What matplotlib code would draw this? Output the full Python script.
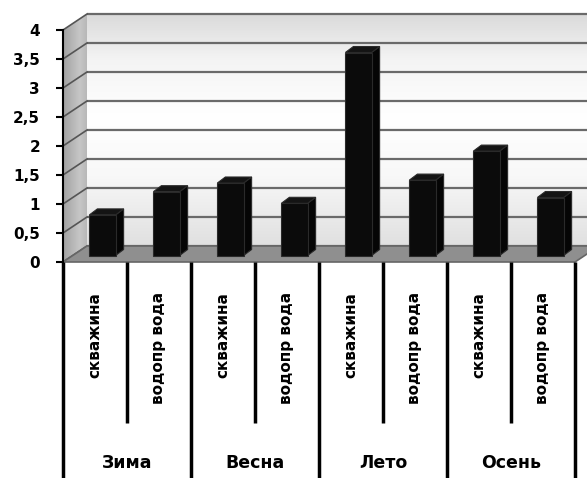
import matplotlib
matplotlib.use("Agg")
import matplotlib.pyplot as plt
import numpy as np
from matplotlib.patches import Polygon
from matplotlib.colors import LinearSegmentedColormap

# ---- data ----
seasons = ["Зима", "Весна", "Лето", "Осень"]
sources = ["скважина", "водопр вода"]
values = [0.7, 1.1, 1.25, 0.9, 3.5, 1.3, 1.8, 1.0]
yticks = [0, 0.5, 1, 1.5, 2, 2.5, 3, 3.5, 4]
ytick_labels = ["0", "0,5", "1", "1,5", "2", "2,5", "3", "3,5", "4"]

plt.rcParams["font.family"] = ["DejaVu Sans"]

W, H = 587, 478
fig = plt.figure(figsize=(W / 100, H / 100), dpi=100)
fig.patch.set_facecolor("white")

# front plane of the pseudo-3D box (pixels)
left_px, right_px, base_px, top_px = 63, 575, 262, 30
ax = fig.add_axes([left_px / W, 1 - base_px / H,
                   (right_px - left_px) / W, (base_px - top_px) / H])
n = len(values)
ax.set_xlim(0, n)
ax.set_ylim(0, 4)
ax.set_facecolor("none")

ux = n / (right_px - left_px)   # data units per pixel
uy = 4 / (base_px - top_px)

# depth offsets (data units)
wdx, wdy = 24 * ux, 16 * uy      # back wall
fdx, fdy = 7.5 * ux, 6.5 * uy    # front face of the columns
bdx, bdy = 15.5 * ux, 12.5 * uy  # back face of the columns

x_far = (W - left_px) * ux + 0.5

# back wall with soft vertical gradient
wall_cmap = LinearSegmentedColormap.from_list(
    "wall", [(0, "#e0e0e0"), (0.3, "#f8f8f8"), (0.55, "#ffffff"),
             (0.8, "#f4f4f4"), (1, "#dadada")])
grad = np.linspace(0, 1, 256).reshape(-1, 1)
ax.imshow(grad, cmap=wall_cmap, aspect="auto", origin="lower",
          extent=[wdx, x_far, wdy, 4 + wdy], clip_on=False, zorder=0,
          interpolation="bilinear")

# left side wall with horizontal gradient, clipped to its parallelogram
side_cmap = LinearSegmentedColormap.from_list(
    "side", [(0, "#a2a2a2"), (0.7, "#c6c6c6"), (1, "#b8b8b8")])
side_img = ax.imshow(np.linspace(0, 1, 64).reshape(1, -1), cmap=side_cmap,
                     aspect="auto", origin="lower",
                     extent=[0, wdx, 0, 4 + wdy], zorder=0,
                     interpolation="bilinear")
side_poly = Polygon([(0, 0), (0, 4), (wdx, 4 + wdy), (wdx, wdy)],
                    closed=True, facecolor="none", edgecolor="none",
                    transform=ax.transData)
ax.add_patch(side_poly)
side_img.set_clip_box(fig.bbox)
side_img.set_clip_path(side_poly)
ax.set_xlim(0, n)
ax.set_ylim(0, 4)

# gridlines on back and side walls
for v in yticks:
    ax.plot([wdx, x_far], [v + wdy, v + wdy], color="#6a6a6a", lw=1.6,
            clip_on=False, zorder=1, solid_capstyle="butt")
    ax.plot([0, wdx], [v, v + wdy], color="#555555", lw=1.2,
            clip_on=False, zorder=1)

# floor
floor = Polygon([(0, 0), (n, 0), (n + wdx, wdy), (wdx, wdy)], closed=True,
                facecolor="#8f8f8f", edgecolor="#666666", lw=1.2,
                clip_on=False, zorder=2)
ax.add_patch(floor)

# columns
centers = np.arange(n) + 0.5
bw = 0.41
ax.bar(centers + fdx, values, width=bw, bottom=fdy, color="#0b0b0b",
       edgecolor="#2a2a2a", lw=0.8, zorder=4, clip_on=False)
for c, v in zip(centers, values):
    xl, xr = c - bw / 2, c + bw / 2
    side = Polygon([(xr + fdx, fdy), (xr + bdx, bdy), (xr + bdx, v + bdy),
                    (xr + fdx, v + fdy)], closed=True, facecolor="#050505",
                   edgecolor="#2a2a2a", lw=0.8, zorder=3, clip_on=False)
    top = Polygon([(xl + fdx, v + fdy), (xr + fdx, v + fdy),
                   (xr + bdx, v + bdy), (xl + bdx, v + bdy)], closed=True,
                  facecolor="#141414", edgecolor="#2a2a2a", lw=0.8,
                  zorder=3, clip_on=False)
    ax.add_patch(side)
    ax.add_patch(top)

# value axis
for s in ["top", "right", "bottom"]:
    ax.spines[s].set_visible(False)
ax.spines["left"].set_color("black")
ax.spines["left"].set_linewidth(1.5)
ax.spines["left"].set_zorder(5)
ax.set_yticks(yticks)
ax.set_yticklabels(ytick_labels, fontsize=11, fontweight="bold")
ax.tick_params(axis="y", direction="out", length=5, width=1.5, pad=11.5)
ax.set_xticks([])

# category axis: group separators and labels
y_bottom = -(H - base_px) * uy
y_minor = -(423 - base_px) * uy
for k in range(0, n + 1, 2):
    ax.plot([k, k], [0, y_bottom], color="black", lw=2.5, clip_on=False,
            zorder=5, solid_capstyle="butt")
for k in range(1, n, 2):
    ax.plot([k, k], [0, y_minor], color="black", lw=2.5, clip_on=False,
            zorder=5, solid_capstyle="butt")

y_sub = -(292 - base_px) * uy
for i, c in enumerate(centers):
    ax.text(c, y_sub, sources[i % 2], rotation=90, ha="center", va="top",
            fontsize=11, fontweight="bold", clip_on=False)

y_season = -(463 - base_px) * uy
for j, name in enumerate(seasons):
    ax.text(2 * j + 1, y_season, name, ha="center", va="center",
            fontsize=12.5, fontweight="bold", clip_on=False)

fig.savefig("out.png", dpi=100)
